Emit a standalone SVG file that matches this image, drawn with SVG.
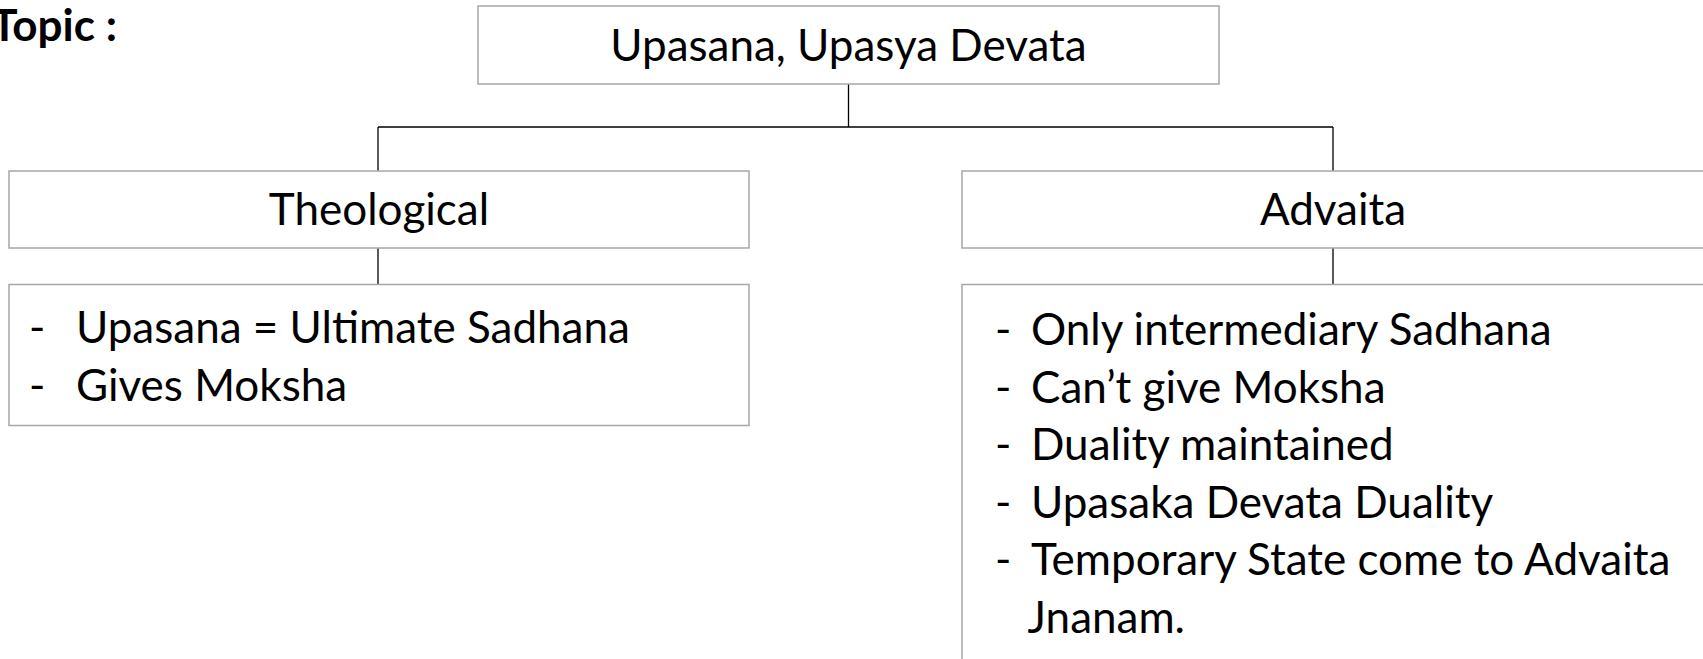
<svg xmlns="http://www.w3.org/2000/svg" width="1703" height="659" viewBox="0 0 1703 659">
<style>
.box{fill:#ffffff;stroke:#a6a6a6;stroke-width:1.5}
.t{font-family:Lato,"Liberation Sans",sans-serif;font-size:44px;fill:#000}
.c{text-anchor:middle}
.conn{stroke:#000;stroke-width:1.3;fill:none}
</style>
<rect width="1703" height="659" fill="#ffffff"/>
<text id="topic" class="t" x="117" y="41" text-anchor="end" font-weight="bold">Topic :</text>
<g id="connectors">
<path class="conn" d="M848.5 84V127M378 127H1333M378 127V171M1333 127V171M378 248V284.5M1333 248V284.5"/>
</g>
<g id="root">
<rect class="box" x="478" y="6" width="741" height="78"/>
<text class="t c" x="848.5" y="61">Upasana, Upasya Devata</text>
</g>
<g id="theological">
<rect class="box" x="9" y="171" width="740" height="77"/>
<text class="t c" x="379" y="225">Theological</text>
</g>
<g id="advaita">
<rect class="box" x="962" y="171" width="745" height="77"/>
<text class="t c" x="1333" y="225">Advaita</text>
</g>
<g id="theological-points">
<rect class="box" x="9" y="284.5" width="740" height="141"/>
<text class="t" x="29" y="343">-</text><text class="t" x="76" y="343">Upasana = Ultimate Sadhana</text>
<text class="t" x="29" y="400.5">-</text><text class="t" x="76" y="400.5">Gives Moksha</text>
</g>
<g id="advaita-points">
<rect class="box" x="962" y="284.5" width="745" height="390"/>
<text class="t" x="995" y="345">-</text><text class="t" x="1031" y="345">Only intermediary Sadhana</text>
<text class="t" x="995" y="402.5">-</text><text class="t" x="1031" y="402.5">Can’t give Moksha</text>
<text class="t" x="995" y="460">-</text><text class="t" x="1031" y="460">Duality maintained</text>
<text class="t" x="995" y="517.5">-</text><text class="t" x="1031" y="517.5">Upasaka Devata Duality</text>
<text class="t" x="995" y="575">-</text><text class="t" x="1031" y="575">Temporary State come to Advaita</text>
<text class="t" x="1027.5" y="632.5">Jnanam.</text>
</g>
</svg>
